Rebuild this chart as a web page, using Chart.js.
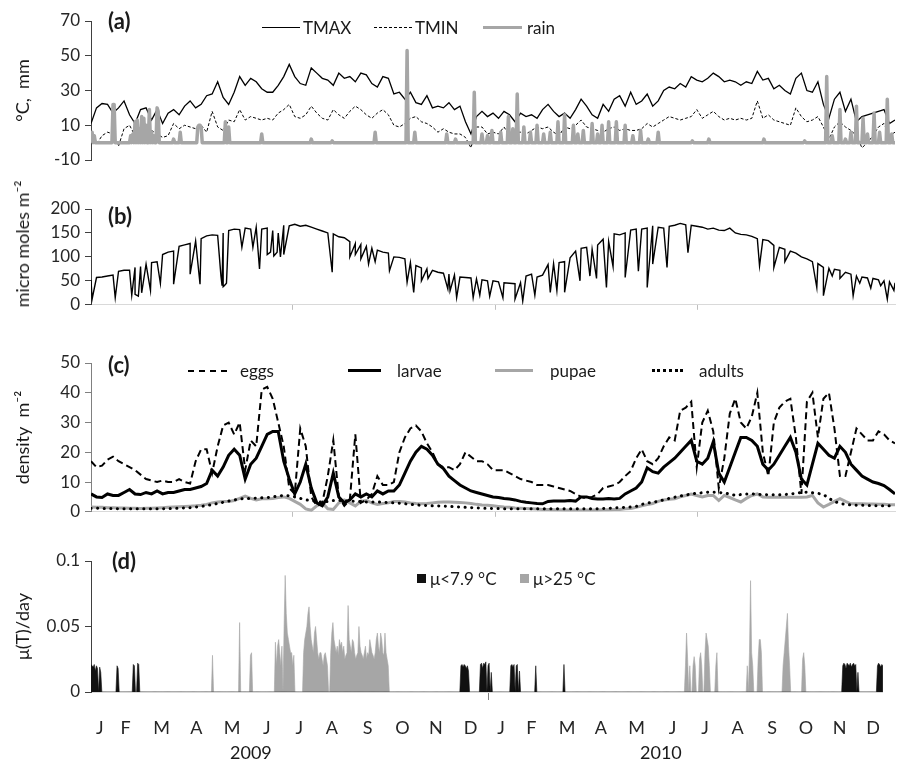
<!DOCTYPE html>
<html>
<head>
<meta charset="utf-8">
<script src="https://cdn.jsdelivr.net/npm/chart.js@4.4.0/dist/chart.umd.min.js"></script>
<style>
  body { margin:0; background:#fff; width:897px; height:766px; overflow:hidden; position:relative;
         font-family: Lato, "DejaVu Sans", sans-serif; color:#1a1a1a; }
  canvas { position:absolute; left:0; }
  .t { position:absolute; white-space:nowrap; font-size:17px; line-height:17px; }
  .p { position:absolute; white-space:nowrap; font-weight:bold; font-size:22px; line-height:22px; }
  .ln { position:absolute; height:0; }
  .sq { position:absolute; width:9px; height:9px; }
  .rot { position:absolute; white-space:nowrap; font-size:18px; line-height:18px; transform:translate(-50%,-50%) rotate(-90deg); }
</style>
</head>
<body>
<canvas id="ca" width="897" height="183" style="top:0px"></canvas>
<canvas id="cb" width="897" height="130" style="top:190px"></canvas>
<canvas id="cc" width="897" height="197" style="top:330px"></canvas>
<canvas id="cd" width="897" height="222" style="top:530px"></canvas>

<!-- panel labels -->
<div class="p" style="left:108px;top:10px">(a)</div>
<div class="p" style="left:108px;top:205px">(b)</div>
<div class="p" style="left:108px;top:354px">(c)</div>
<div class="p" style="left:112px;top:550px">(d)</div>

<!-- legend (a) -->
<div class="ln" style="left:262px;top:27px;width:38px;border-top:1.5px solid #000"></div>
<div class="t" style="left:303px;top:19px">TMAX</div>
<div class="ln" style="left:374px;top:27px;width:38px;border-top:1px dashed #000"></div>
<div class="t" style="left:415px;top:19px">TMIN</div>
<div class="ln" style="left:483px;top:26px;width:39px;border-top:3.5px solid #a6a6a6"></div>
<div class="t" style="left:527px;top:19px">rain</div>

<div class="rot" style="left:22px;top:244px">micro moles m⁻²</div>

<!-- legend (c) -->
<div class="ln" style="left:188px;top:370px;width:39px;border-top:2px dashed #000"></div>
<div class="t" style="left:240px;top:362px">eggs</div>
<div class="ln" style="left:348px;top:369px;width:33px;border-top:3px solid #000"></div>
<div class="t" style="left:397px;top:362px">larvae</div>
<div class="ln" style="left:495px;top:369px;width:38px;border-top:3px solid #a6a6a6"></div>
<div class="t" style="left:550px;top:362px">pupae</div>
<div class="ln" style="left:652px;top:369px;width:31px;border-top:3px dotted #000"></div>
<div class="t" style="left:699px;top:362px">adults</div>

<!-- legend (d) -->
<div class="sq" style="left:417px;top:574px;background:#111"></div>
<div class="t" style="left:430px;top:570px">μ&lt;7.9 °C</div>
<div class="sq" style="left:520px;top:574px;background:#a6a6a6"></div>
<div class="t" style="left:533px;top:570px">μ&gt;25 °C</div>

<div class="t" style="left:230px;top:744px;font-size:18px">2009</div>
<div class="t" style="left:640px;top:744px;font-size:18px">2010</div>

<script>
window.addEventListener("load", () => {
  const STEP = 5; // days between samples of the sampled series

  const monthLabels = ['J','F','M','A','M','J','J','A','S','O','N','D','J','F','M','A','M','J','J','A','S','O','N','D'];
  const monthTickDays = [8,32,65,97,130,162,192,222,255,287,318,350,378,406,439,470,503,536,566,596,628,659,690,721];
  const halfYearDays = [183,367,551];

  // (a) temperature, every 5 days
  const tmax = [11,20,22.5,22,17,20,24,16,11,19, 20,13,19,11,17,19,16,21,24,20,
    22,27,28,35,26,22,29,38,33,37, 35,31,29,29,33,38,45,38,34,33,
    43,40,37,36,33,40,37,38,35,40, 39,34,32,38,37,28,29,25,29,23,
    22,27,20,21,20,23,19,21,12,5, 15,18,15,17,14,18,16,12,17,15,
    16,14,19,22,18,15,17,14,19,25, 21,16,14,22,18,25,27,21,29,22,
    24,28,21,24,30,32,31,34,32,38, 36,35,37,40,38,35,36,35,33,35,
    34,41,36,37,31,33,30,28,37,40, 30,29,35,22,14,25,29,18,25,12,
    15,16,17,18,19,11,13];
  const tmin = [3,-1,4,6,5,-2,8,10,4,3, 6,7,5,3,4,11,8,10,9,8,
    10,6,18,9,7,13,12,19,13,15, 14,13,14,13,17,19,22,15,14,16,
    21,17,14,13,19,16,14,18,21,19, 16,14,17,19,16,10,9,11,14,15,
    12,11,9,6,8,6,5,5,3,-3, 9,9,5,6,5,9,4,6,6,5,
    7,9,8,9,6,4,9,8,10,13, 9,8,7,6,8,9,7,8,7,7,
    8,11,9,11,13,15,14,13,14,15, 19,14,16,18,15,13,14,13,14,13,
    14,24,14,16,13,12,11,10,20,15, 12,13,15,9,2,9,12,9,7,4,
    -3,0,4,9,11,4,6];
  // rain events (day of record, mm)
  const rainDays = [1,3,20,21,36,38,40,42,44,46,48,50,53,55,57,60,61,75,81,97,98,99,100,122,125,155,200,219,258,287,294,
    323,331,348,355,360,364,372,379,383,387,393,399,405,411,417,424,430,438,442,447,455,460,464,470,477,485,492,499,506,515,
    546,561,611,648,668,673,680,685,690,695,701,705,711,716,723,727];
  const rainVals = [6,4,22,22,4,5,12,13,8,15,14,10,19,6,4,20,18,2,6,9,10,10,9,12,9,5,2,1,6,53,6,
    5,2,29,5,4,7,6,15,8,28,9,6,10,5,6,12,16,10,5,7,11,5,10,12,12,10,4,7,2,6,
    1,2,2,1,38,4,19,2,6,21,14,5,17,6,25,5];

  // (b) light: seasonal envelope every 5 days, plus dull days
  const light = [52,57,58,60,62,70,72,72,78,80, 85,88,90,105,110,112,122,125,128,133,
    138,144,146,145,150,155,158,157,160,158, 162,158,160,155,150,166,165,168,164,166,
    162,158,154,150,148,142,140,132,128,126, 122,118,114,110,108,100,99,96,88,82,
    77,75,72,68,66,64,62,58,57,56, 54,52,50,50,48,46,45,44,46,60,
    64,58,62,84,86,88,90,98,112,118, 120,116,125,137,132,148,146,150,156,158,
    158,160,165,162,160,164,166,170,167,166, 164,162,158,160,156,155,160,150,147,146,
    143,138,136,134,124,120,116,112,108,100, 96,90,86,78,76,74,72,68,64,60,
    58,56,55,52,50,48,46];
  const dullDays = [1,22,37,40,43,46,54,63,75,90,99,118,119,120,121,123,137,147,153,160,163,166,169,172,175,219,235,240,245,252,258,271,287,293,300,306,324,
    326,332,347,353,362,374,385,392,403,417,423,430,444,453,459,468,474,485,497,505,510,523,542,607,620,630,659,665,673,680,692,698,708,717,723,729];
  const dullVals = [12,15,20,22,18,25,30,45,43,64,43,60,40,38,40,45,120,120,75,105,110,102,110,100,105,68,100,105,96,85,90,71,47,26,50,55,33,
    29,15,15,20,18,15,12,8,20,26,30,26,50,60,55,36,80,57,70,36,85,78,109,81,78,90,36,19,60,55,19,45,35,40,12,30];

  // (c) densities, every 5 days
  const eggs = [17,15,15.5,17.5,18.5,17,16,15,14,12.5, 11,10.5,10,10.5,10,10,11,10,9.5,17,
    21,21,13,22,29,30,26,30,14,24, 22,41,42,38,30,22,8,6,28,22,
    5,2,3,12,24,5,2,4,26,3, 4,6,12,9,9,10,20,25,28,29,
    27,23,20,16,15,15,14,16,20,18.5, 17,17,16,14,14,14,13,12,11,10.5,
    10,9,9,9,8.5,8,7.5,7,6,5, 4.5,5,6,8,8.5,9,10,12,13.7,18,
    21,17,16,18,22,25,24,34,35,37, 15,30,34,27,8,18,33,38,30,28,
    32,40,20,12,30,35,37,38,25,6, 37,40,25,38,40,28,12,12,20,28,
    26,24,24,27,26,24,23];
  const larvae = [6,5,4.8,6,5.5,5.5,6.5,7.5,6,5.8, 6.5,6,7,6,6.5,6.5,7,7.5,7.5,8,
    8.5,9.5,14,12,15,19,21,19,11,16, 18,22,26,27,27,17,11,6,10,16,
    8,3,2,5,13,5,3,4,6,5, 6,5,7,6,7,7,9,13,17,20,
    22,21,19,16,14.5,12,10.5,9,8,7, 6.5,6,5.5,5,4.8,4.5,4.3,4,3.5,3.2,
    3,2.8,2.7,3.5,3.6,3.6,3.6,3.8,3.6,5, 5,4.5,4.3,4.3,4.5,4.3,4.5,6,7,8,
    10,14.8,13.5,13,15,16.5,18,20,22,24, 17,16,18,23.5,13,10,15,20,25,25,
    24,22,16,14,16,19,22,25,20,11, 9,16,23,21,19,18,22,20,16,14,
    12,11,10,9.5,8.8,7.5,6];
  const pupae = [1.6,1.5,1.5,1.4,1.4,1.3,1.3,1.2,1.2,1.1, 1.2,1.2,1.3,1.4,1.5,1.6,1.7,1.8,1.9,2,
    2.2,2.5,3,3.3,3.5,3.5,3.8,4.5,5.3,4.5, 4,4.4,4.4,4.5,4.8,5,4.5,3.5,2.5,1,
    0.5,2,3,1,0.8,3,4,3,2,3.5, 3.8,3,2.5,2.8,3,3.5,3.5,3.3,3,2.8,
    2.7,2.8,3,3.2,3.3,3.3,3.2,3.1,3,2.8, 2.5,2.3,2.2,2,1.8,1.6,1.5,1.3,1.2,1.1,
    1,0.9,0.8,0.8,0.7,0.7,0.6,0.6,0.6,0.6, 0.6,0.6,0.6,0.7,0.7,0.8,0.8,1,1.1,1.5,
    2,2.4,2.8,3.5,4,4.2,4.4,5,5.5,6, 5.5,5,5.5,5.5,3.8,5.5,4.8,4,3.3,4.5,
    5.5,6,5,4.9,4.9,4.9,4.9,4.9,4.9,4.9, 5,5.5,3,1.6,2.5,3.5,4.4,3.5,2.7,2.7,
    2.7,2.6,2.6,2.5,2.5,2.4,2.4];
  const adults = [1.2,1.2,1.1,1.1,1.1,1,1,1,1,1, 1,1,1,1,1.1,1.1,1.2,1.3,1.4,1.6,
    1.8,2.1,2.4,2.8,3.2,3.6,4,4.3,4.5,4.5, 4.6,4.7,4.8,5,5.3,5.5,5.4,5,4.5,4,
    3.8,3.5,3.2,3.5,3.8,3.8,3.7,3.6,3.5,3.4, 3.3,3.3,3.3,3.2,3.1,3,2.9,2.7,2.5,2.3,
    2.2,2.1,2,2,1.9,1.8,1.7,1.6,1.5,1.4, 1.3,1.2,1.2,1.1,1.1,1,1,1,1,1,
    1,1,1,1,1,1,1,1,1,1, 1,1,1,1.1,1.2,1.3,1.4,1.5,1.6,1.8,
    2.5,2.9,3.3,3.5,4,4.5,4.9,5.3,5.6,6, 6.2,6.4,6.6,6.6,6.5,6.3,6,5.5,5.8,6,
    6,5.9,5.8,5.7,5.7,5.7,5.8,6,6.2,6.5, 6.6,6.4,6.2,5.8,4.5,3.5,2.8,2.5,2.3,2.2,
    2.2,2.1,2.1,2,2,2,1.9];

  // (d) daily development-rate penalties
  const coldDays = [0,1,2,3,4,5,6,8,9,24,25,39,40,43,44,
    341,342,343,344,345,346,347,348,359,360,361,362,363,364,366,367,369,387,388,389,390,392,393,395,410,436,
    693,694,695,696,697,698,699,700,701,702,703,704,705,707,725,726,727,728,729,730];
  const coldVals = [0.021,0.02,0.019,0.021,0.016,0.02,0.018,0.019,0.015,0.02,0.018,0.021,0.02,0.022,0.021,
    0.02,0.021,0.019,0.021,0.02,0.018,0.02,0.016,0.021,0.022,0.018,0.022,0.021,0.023,0.02,0.022,0.015,0.02,0.021,0.019,0.021,0.02,0.021,0.016,0.02,0.021,
    0.02,0.022,0.021,0.018,0.022,0.021,0.02,0.022,0.019,0.021,0.022,0.02,0.021,0.015,0.02,0.022,0.021,0.019,0.021,0.02];
  const hotDays = [112,137,147,148,
    170,171,172,173,174,175,176,178,179,180,181,182,183,184,185,186,187,
    196,197,198,199,200,201,202,203,204,205,206,207,208,209,210,211,212,213,214,215,216,217,218,
    221,222,223,224,225,226,227,228,229,230,231,232,233,234,235,236,237,238,239,240,241,242,243,244,245,246,247,
    248,249,250,251,252,253,254,255,256,257,258,259,260,261,262,263,264,265,266,267,268,269,270,271,272,273,274,
    548,549,550,552,555,556,557,561,562,563,566,567,568,569,570,576,577,
    605,607,608,609,610,615,616,617,618,638,639,640,641,642,643,644,656,657,658];
  const hotVals = [0.028,0.053,0.028,0.03,
    0.038,0.02,0.035,0.04,0.03,0.02,0.035,0.05,0.089,0.06,0.045,0.04,0.035,0.03,0.03,0.02,0.028,
    0.03,0.04,0.045,0.05,0.06,0.065,0.05,0.04,0.035,0.03,0.045,0.05,0.04,0.03,0.025,0.03,0.03,0.025,0.02,0.028,0.03,0.025,0.02,
    0.03,0.045,0.053,0.04,0.035,0.03,0.035,0.028,0.04,0.035,0.038,0.03,0.035,0.025,0.028,0.03,0.066,0.04,0.035,0.03,0.04,0.038,0.03,0.025,0.028,0.03,0.05,
    0.035,0.03,0.028,0.025,0.03,0.035,0.025,0.03,0.028,0.04,0.035,0.03,0.028,0.025,0.03,0.04,0.045,0.035,0.03,0.045,0.04,0.03,0.028,0.045,0.03,0.025,0.02,
    0.02,0.045,0.025,0.02,0.02,0.027,0.02,0.025,0.03,0.02,0.03,0.045,0.04,0.035,0.02,0.02,0.03,
    0.02,0.03,0.085,0.03,0.02,0.025,0.04,0.04,0.03,0.02,0.03,0.04,0.05,0.06,0.035,0.02,0.025,0.03,0.02];

  const FONT = 'Lato, "DejaVu Sans", sans-serif';
  Chart.defaults.font.family = FONT;
  Chart.defaults.color = '#262626';

  const sampled = arr => arr.map((v, i) => ({x: i * STEP, y: v}));
  const daily = (days, vals) => {
    const out = [];
    for (let d = 0; d <= 730; d++) out.push({x: d, y: 0});
    days.forEach((d, k) => { out[d].y = vals[k]; });
    return out;
  };
  const withDull = () => {
    const pts = sampled(light).concat(dullDays.map((d, k) => ({x: d, y: dullVals[k]})));
    return pts.sort((a, b) => a.x - b.x);
  };

  const yAxis = (min, max, step, title, col) => ({
    min: min, max: max,
    ticks: {stepSize: step, font: {size: 17}, padding: 5, color: '#262626',
            callback: v => String(Math.round(v * 1000) / 1000)},
    grid: {drawOnChartArea: false, tickLength: 6, color: col},
    border: {color: col, width: 1},
    title: {display: !!title, text: title || '', font: {size: 18}, color: '#1a1a1a', padding: {top: 12, bottom: 0}},
    afterFit(s) { s.width = 91; }
  });
  const xAxis = show => ({
    type: 'linear', min: 0, max: 730, display: show,
    afterBuildTicks(s) { s.ticks = halfYearDays.map(v => ({value: v})); },
    ticks: {display: false},
    grid: {drawOnChartArea: false, tickLength: 5, color: '#bfbfbf'},
    border: {color: '#d9d9d9', width: 1},
    afterFit(s) { s.height = 12; }
  });
  const base = (padTop, padBottom, scales) => ({
    responsive: false, animation: false, devicePixelRatio: 1,
    layout: {padding: {top: padTop, bottom: padBottom, left: 0, right: 2}},
    plugins: {legend: {display: false}, tooltip: {enabled: false}},
    elements: {point: {radius: 0}, line: {tension: 0}},
    scales: scales
  });

  // (a)
  new Chart(document.getElementById('ca'), {
    type: 'line',
    data: {datasets: [
      {label: 'rain', data: daily(rainDays, rainVals), borderColor: '#a6a6a6', borderWidth: 3.5, borderJoinStyle: 'round'},
      {label: 'TMAX', data: sampled(tmax), borderColor: '#000', borderWidth: 1.3},
      {label: 'TMIN', data: sampled(tmin), borderColor: '#000', borderWidth: 1, borderDash: [3, 2]}
    ]},
    options: base(21, 11, {x: xAxis(false), y: yAxis(-10, 70, 20, '°C,  mm', '#404040')})
  });

  // (b)
  new Chart(document.getElementById('cb'), {
    type: 'line',
    data: {datasets: [
      {label: 'light', data: withDull(), borderColor: '#000', borderWidth: 1.4}
    ]},
    options: base(19, 0, {x: xAxis(true), y: yAxis(0, 200, 50, '', '#404040')})
  });

  // (c)
  new Chart(document.getElementById('cc'), {
    type: 'line',
    data: {datasets: [
      {label: 'adults', data: sampled(adults), borderColor: '#000', borderWidth: 3, borderDash: [0.1, 6.5], borderCapStyle: 'round'},
      {label: 'larvae', data: sampled(larvae), borderColor: '#000', borderWidth: 3},
      {label: 'eggs', data: sampled(eggs), borderColor: '#000', borderWidth: 2, borderDash: [7, 4]},
      {label: 'pupae', data: sampled(pupae), borderColor: '#a6a6a6', borderWidth: 3}
    ]},
    options: base(33, 0, {x: xAxis(true), y: yAxis(0, 50, 10, 'density  m⁻²', '#808080')})
  });

  // (d)
  const dx = {
    type: 'linear', min: 0, max: 730,
    afterBuildTicks(s) { s.ticks = monthTickDays.concat([366]).sort((a, b) => a - b).map(v => ({value: v})); },
    ticks: {
      autoSkip: false, maxRotation: 0, padding: 17, font: {size: 18}, color: '#262626',
      callback: v => { const k = monthTickDays.indexOf(v); return k >= 0 ? monthLabels[k] : ''; }
    },
    grid: {drawOnChartArea: false, tickLength: 8, color: c => (c.tick && c.tick.value === 366) ? '#808080' : 'rgba(0,0,0,0)'},
    border: {color: '#d9d9d9', width: 1},
    afterFit(s) { s.height = 60; }
  };
  new Chart(document.getElementById('cd'), {
    type: 'line',
    data: {datasets: [
      {label: 'μ<7.9 °C', data: daily(coldDays, coldVals), borderColor: '#111', backgroundColor: '#111', borderWidth: 0.6, fill: 'origin'},
      {label: 'μ>25 °C', data: daily(hotDays, hotVals), borderColor: '#a6a6a6', backgroundColor: '#a6a6a6', borderWidth: 0.6, fill: 'origin'}
    ]},
    options: base(31, 0, {x: dx, y: yAxis(0, 0.1, 0.05, 'μ(T)/day', '#404040')})
  });
});
</script>
</body>
</html>
